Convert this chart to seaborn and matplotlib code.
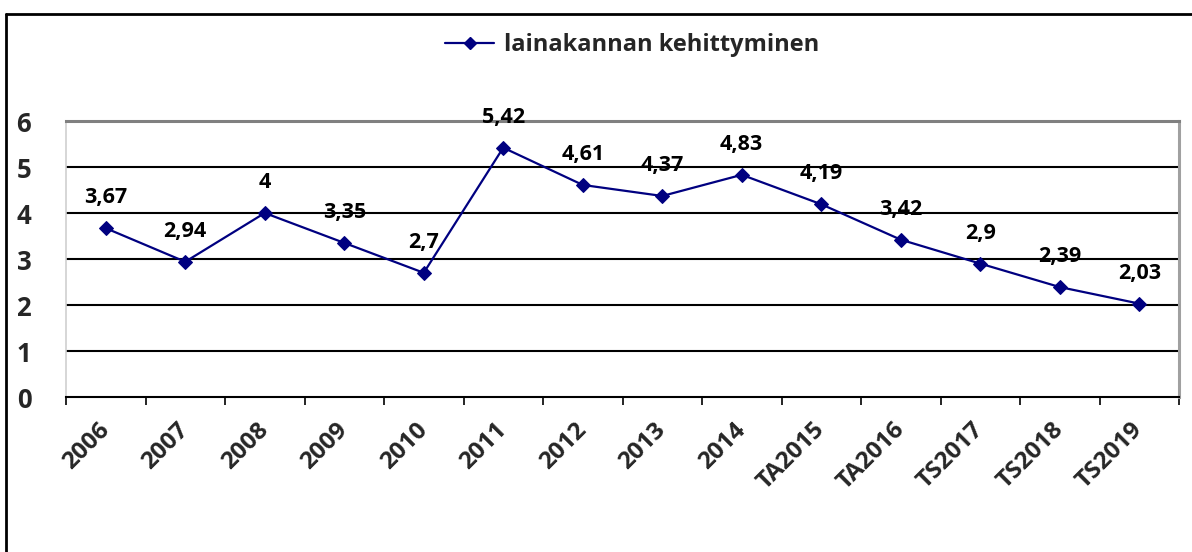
import numpy as np
import pandas as pd
import matplotlib
matplotlib.use("Agg")
import matplotlib.pyplot as plt
from matplotlib.lines import Line2D
from matplotlib.ticker import FixedLocator
import seaborn as sns

categories = ["2006", "2007", "2008", "2009", "2010", "2011", "2012", "2013",
              "2014", "TA2015", "TA2016", "TS2017", "TS2018", "TS2019"]
values = [3.67, 2.94, 4.0, 3.35, 2.7, 5.42, 4.61, 4.37, 4.83, 4.19, 3.42, 2.9, 2.39, 2.03]
labels = ["3,67", "2,94", "4", "3,35", "2,7", "5,42", "4,61", "4,37", "4,83",
          "4,19", "3,42", "2,9", "2,39", "2,03"]
series_name = "lainakannan kehittyminen"
yticks = [0, 1, 2, 3, 4, 5, 6]

sns.set_theme(style="white")
plt.rcParams['font.family'] = ['Open Sans', 'DejaVu Sans']
plt.rcParams['font.weight'] = 'bold'

df = pd.DataFrame({"pos": np.arange(len(categories)), "value": values, "serie": series_name})

fig = plt.figure(figsize=(11.92, 5.52), dpi=100)
ax = fig.add_axes([66/1192, 155/552, (1179-66)/1192, (397-121)/552])

navy = "#000080"
sns.lineplot(data=df, x="pos", y="value", hue="serie", palette=[navy], marker="D",
             markersize=7.5, markeredgecolor=navy, linewidth=1.6, ax=ax, legend=False)

ax.set_xlim(-0.5, len(categories) - 0.5)
ax.set_ylim(0, 6)
ax.set_yticks(yticks)
ax.set_yticklabels([str(t) for t in yticks], fontsize=18.5, fontweight='bold')
ax.set_xticks(np.arange(len(categories)))
ax.set_xticklabels(categories, rotation=45, ha='right', va='center',
                   rotation_mode='anchor', fontsize=17.5, fontweight='bold')
ax.xaxis.set_minor_locator(FixedLocator(np.arange(-0.5, len(categories), 1.0)))
ax.tick_params(axis='x', which='major', length=0, pad=21)
ax.tick_params(axis='x', which='minor', length=6, width=1.2, color='black', bottom=True)
ax.tick_params(axis='y', length=0, pad=25)
ax.set_xlabel("")
ax.set_ylabel("")

for yv in [1, 2, 3, 4, 5]:
    ax.axhline(yv, color='black', linewidth=1.5, zorder=1)

ax.spines['bottom'].set_color('black')
ax.spines['bottom'].set_linewidth(1.5)
ax.spines['top'].set_color('#808080')
ax.spines['top'].set_linewidth(2.2)
ax.spines['right'].set_color('#a0a0a0')
ax.spines['right'].set_linewidth(2.2)
ax.spines['left'].set_color('#d0d0d0')
ax.spines['left'].set_linewidth(1.2)

for x, v, lab in zip(df["pos"], values, labels):
    ax.annotate(lab, (x, v), xytext=(0, 18), textcoords='offset points',
                ha='center', va='baseline', fontsize=15.5, fontweight='bold',
                color='black', zorder=5)

handle = Line2D([], [], color=navy, marker='D', markersize=6, linewidth=1.6)
fig.legend([handle], [series_name], loc='center', bbox_to_anchor=(632/1192, 1 - 45/552),
           frameon=False, prop={'size': 17, 'weight': 'bold'}, handlelength=2.1,
           handletextpad=0.4)

# outer chart-area border (left and top edges visible)
fig.add_artist(Line2D([6/1192, 6/1192], [0, 1 - 14/552], color='black', linewidth=2,
                      transform=fig.transFigure))
fig.add_artist(Line2D([6/1192, 1], [1 - 14/552, 1 - 14/552], color='black', linewidth=2,
                      transform=fig.transFigure))

fig.savefig("out.png", dpi=100)
